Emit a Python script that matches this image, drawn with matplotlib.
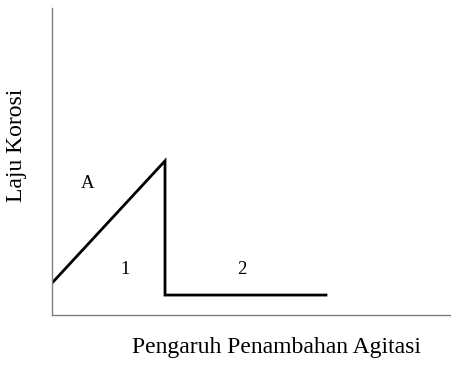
import matplotlib
matplotlib.use("Agg")
from matplotlib import pyplot as plt

# Laju korosi vs penambahan agitasi (skematik, satuan relatif)
agitasi = [0, 28.25, 28.25, 68.5]
laju = [10.4, 50.2, 6.5, 6.5]
label_teks = ["A", "1", "2"]
label_x = [9, 18.25, 47.5]
label_y = [42.7, 14.7, 14.7]

plt.rcParams['font.family'] = ['Liberation Serif', 'DejaVu Serif']

fig = plt.figure(figsize=(4.52, 3.65), dpi=100)
ax = fig.add_axes([52 / 452, 50 / 365, 400 / 452, 307 / 365])

ax.plot(agitasi, laju, color='black', lw=2.0, solid_joinstyle='miter')
for t, x, y in zip(label_teks, label_x, label_y):
    ax.text(x, y, t, ha='center', va='center', fontsize=13.5)

ax.set_xlim(0, 100)
ax.set_ylim(0, 100)
ax.set_xticks([])
ax.set_yticks([])
for s in ['top', 'right']:
    ax.spines[s].set_visible(False)
for s in ['left', 'bottom']:
    ax.spines[s].set_color('#7f7f7f')
    ax.spines[s].set_linewidth(1.0)

fig.text(277 / 452, 1 - 348 / 365, 'Pengaruh Penambahan Agitasi', ha='center', va='center', fontsize=17)
fig.text(17 / 452, 1 - 145 / 365, 'Laju Korosi', ha='center', va='center', rotation=90, fontsize=17)

fig.savefig('out.png', dpi=100)
